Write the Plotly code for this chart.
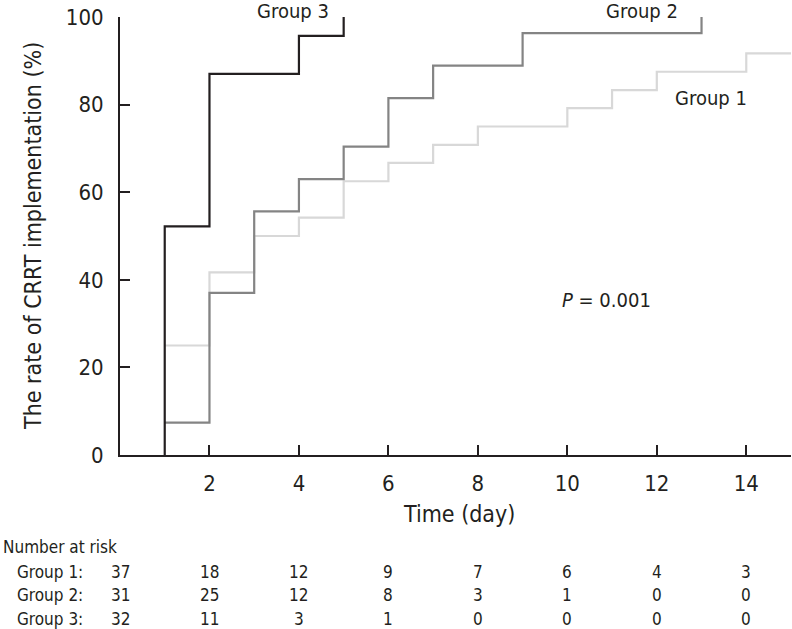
import plotly.graph_objects as go

# ---- data ----
g1_days = [1, 2, 3, 4, 5, 6, 7, 8, 10, 11, 12, 14, 15]
g1_rate = [25, 41.7, 50, 54.2, 62.5, 66.7, 70.8, 75, 79.2, 83.3, 87.5, 91.7, 91.7]
g2_days = [1, 2, 3, 4, 5, 6, 7, 9, 13]
g2_rate = [7.4, 37, 55.6, 63, 70.4, 81.5, 88.9, 96.3, 100]
g3_days = [1, 1, 2, 4, 5]
g3_rate = [0, 52.2, 87, 95.7, 100]

risk_days = [0, 2, 4, 6, 8, 10, 12, 14]
risk_g1 = [37, 18, 12, 9, 7, 6, 4, 3]
risk_g2 = [31, 25, 12, 8, 3, 1, 0, 0]
risk_g3 = [32, 11, 3, 1, 0, 0, 0, 0]
group_names = ["Group 1", "Group 2", "Group 3"]

x_ticks = [2, 4, 6, 8, 10, 12, 14]
y_ticks = [0, 20, 40, 60, 80, 100]

FONT = "Liberation Sans Narrow, DejaVu Sans Condensed, Arial Narrow, sans-serif"
INK = "#231f20"

W, H = 792, 629
L, R, T, B = 120, 1, 17, 174
plot_h = H - T - B


def py(pix):
    """pixel y -> paper y"""
    return (H - B - pix) / plot_h


def px(pix):
    return (pix - L) / (W - L - R)


fig = go.Figure()
fig.add_trace(go.Scatter(x=g1_days, y=g1_rate, mode="lines", line_shape="hv",
                         line=dict(color="#d8d8d8", width=2.2), name=group_names[0]))
fig.add_trace(go.Scatter(x=g2_days, y=g2_rate, mode="lines", line_shape="hv",
                         line=dict(color="#848484", width=2.2), name=group_names[1]))
fig.add_trace(go.Scatter(x=g3_days, y=g3_rate, mode="lines", line_shape="hv",
                         line=dict(color=INK, width=2.2), name=group_names[2]))

ann = []


def add_text(x, y, text, size, xanchor="center", xref="paper", **kw):
    ann.append(dict(x=x, y=y, xref=xref, yref="paper", text=text, showarrow=False,
                    xanchor=xanchor, yanchor="middle",
                    font=dict(size=size, color=INK, family=FONT), **kw))


# curve labels
add_text(px(293), py(11), "Group 3", 20)
add_text(px(642), py(11), "Group 2", 20)
add_text(px(711), py(98), "Group 1", 20)
add_text(px(606), py(300), "<i>P</i> = 0.001", 20)
# axis titles
add_text(px(459), py(514), "Time (day)", 23)
add_text(px(33), py(236), "The rate of CRRT implementation (%)", 23, textangle=-90)
# number at risk table
add_text(px(1), py(547), "Number at risk", 17, xanchor="left")
row_y = [572, 595, 619]
for name, vals, ry in zip(group_names, [risk_g1, risk_g2, risk_g3], row_y):
    add_text(px(15), py(ry), name + ":", 17, xanchor="left")
    for d, v in zip(risk_days, vals):
        add_text(d, py(ry), str(v), 17, xref="x")

fig.update_layout(
    width=W, height=H,
    margin=dict(l=L, r=R, t=T, b=B, pad=0, autoexpand=False),
    paper_bgcolor="white", plot_bgcolor="white",
    showlegend=False,
    annotations=ann,
    font=dict(family=FONT, color=INK),
)
fig.update_xaxes(range=[0, 15], tickvals=x_ticks, ticks="inside", ticklen=10,
                 tickwidth=1.5, tickcolor=INK, showline=True, linecolor=INK,
                 linewidth=2, showgrid=False, zeroline=False, automargin=False,
                 tickfont=dict(size=22, family=FONT, color=INK), ticklabelstandoff=8)
fig.update_yaxes(range=[0, 100], tickvals=y_ticks, ticks="inside", ticklen=10,
                 tickwidth=1.5, tickcolor=INK, showline=True, linecolor=INK,
                 linewidth=2, showgrid=False, zeroline=False, automargin=False,
                 tickfont=dict(size=22, family=FONT, color=INK), ticklabelstandoff=10)

fig.write_html("out.html", config={"displayModeBar": False},
               post_script="document.body.style.margin='0';document.body.style.overflow='hidden';")
